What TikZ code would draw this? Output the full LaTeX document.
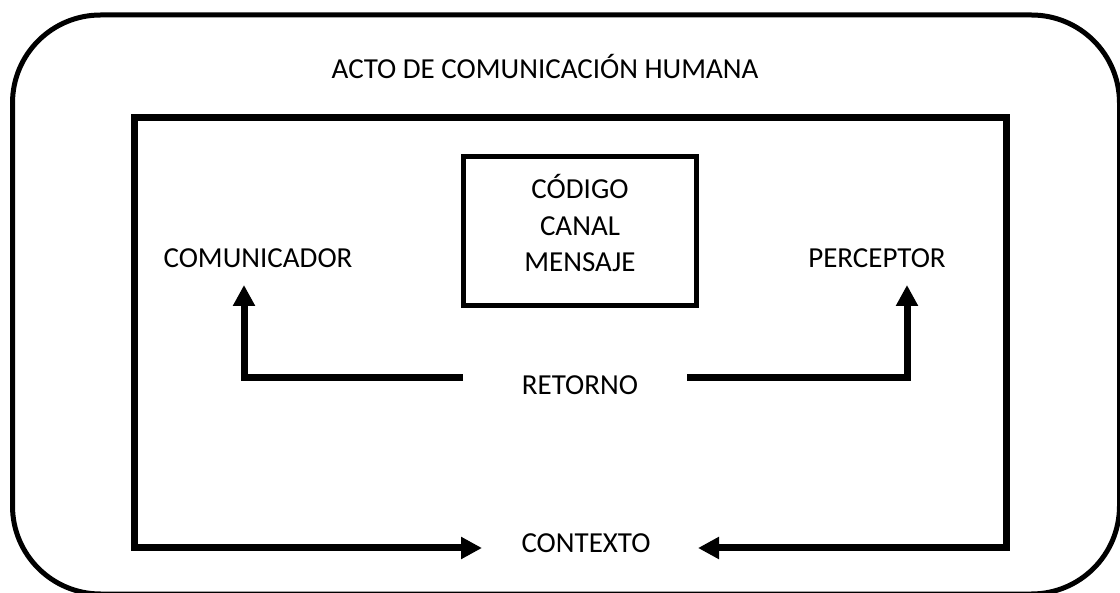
\documentclass[tikz,border=0pt]{standalone}
\usepackage{fontspec}
\setmainfont{Carlito}
\usetikzlibrary{arrows.meta}
\begin{document}
\begin{tikzpicture}[x=1pt,y=-1pt,
  lbl/.style={font=\fontsize{29}{36.5}\selectfont, inner sep=0pt, anchor=base},
  outerbox/.style={line width=5pt, rounded corners=88pt},
  innerframe/.style={line width=7pt, line join=miter},
  codebox/.style={draw, line width=5.5pt, minimum width=233pt, minimum height=149pt, inner sep=0pt},
  fatarrow/.style={line width=7pt, line join=miter, -{Triangle[length=21pt,width=21pt]}},
  fatboth/.style={line width=7pt, line join=miter, {Triangle[length=21pt,width=21pt]}-{Triangle[length=21pt,width=21pt]}}
]
\useasboundingbox (0,0) rectangle (1120,593);
% outer rounded frame
\draw[outerbox] (12.5,15) rectangle (1119.5,594);
% texts
\node[lbl] (title) at (545,79) {ACTO DE COMUNICACIÓN HUMANA};
\node[lbl] (comunicador) at (258,268) {COMUNICADOR};
\node[lbl] (perceptor) at (877,268) {PERCEPTOR};
\node[lbl] (retorno) at (580,395) {RETORNO};
\node[lbl] (contexto) at (586,552) {CONTEXTO};
% code box
\node[codebox] (code) at (580,231) {};
\node[lbl, align=center] (codetext) at (580,272) {CÓDIGO\\CANAL\\MENSAJE};
% frame coordinates
\coordinate (tl) at (134,117.5);
\coordinate (tr) at (1006.5,117.5);
\coordinate (bl) at (134,548);
\coordinate (br) at (1006.5,548);
\coordinate (cl) at (482,548);
\coordinate (cr) at (698,548);
\draw[fatboth] (cl) -- (bl) -- (tl) -- (tr) -- (br) -- (cr);
% retorno arrows
\coordinate (rl) at (463,378);
\coordinate (rlc) at (244,378);
\coordinate (rlt) at (244,285);
\coordinate (rr) at (687,378);
\coordinate (rrc) at (907,378);
\coordinate (rrt) at (907,285);
\draw[fatarrow] (rl) -- (rlc) -- (rlt);
\draw[fatarrow] (rr) -- (rrc) -- (rrt);
\end{tikzpicture}
\end{document}
